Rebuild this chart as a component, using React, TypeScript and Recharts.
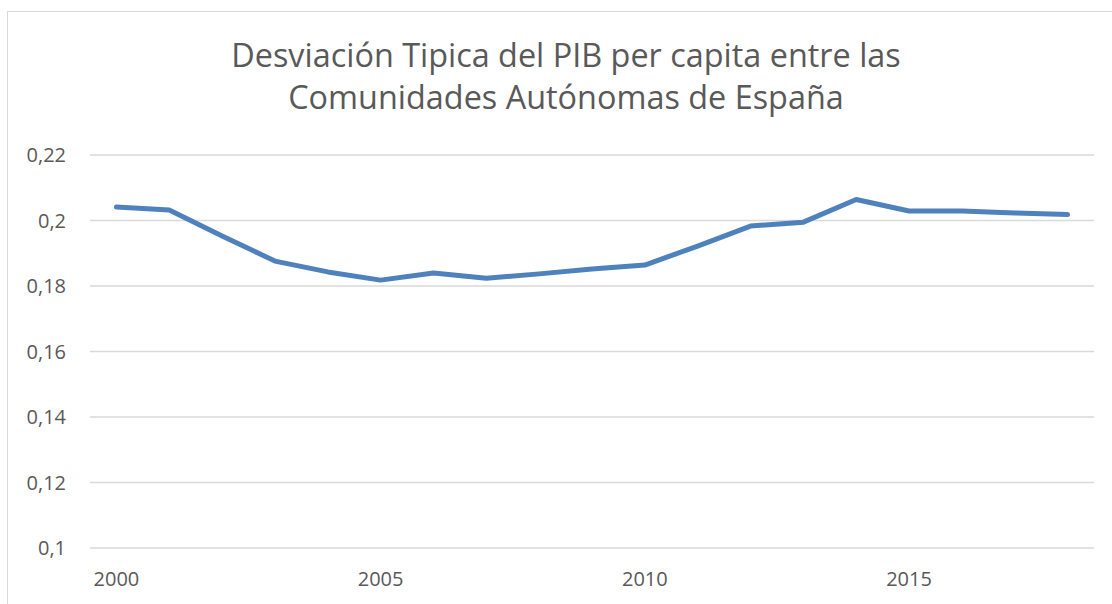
import { LineChart, Line, XAxis, YAxis, CartesianGrid } from 'recharts';

const years = [2000, 2001, 2002, 2003, 2004, 2005, 2006, 2007, 2008, 2009, 2010, 2011, 2012, 2013, 2014, 2015, 2016, 2017, 2018];
const desviacion = [0.2041, 0.2032, 0.1953, 0.1876, 0.1843, 0.1818, 0.184, 0.1824, 0.1837, 0.1852, 0.1864, 0.1922, 0.1983, 0.1995, 0.2064, 0.2029, 0.2029, 0.2023, 0.2018];
const yTicks = [0.1, 0.12, 0.14, 0.16, 0.18, 0.2, 0.22];
const xTicks = [2000, 2005, 2010, 2015];
const titleLines = ['Desviación Tipica del PIB per capita entre las', 'Comunidades Autónomas de España'];

const data = years.map((year, i) => ({ year, value: desviacion[i] }));

const font = '"Open Sans", sans-serif';
const textColor = '#595959';

const fmtY = (v: number) => String(Number(v.toFixed(2))).replace('.', ',');

export default function App() {
  return (
    <div style={{ position: 'fixed', left: 0, top: 0, width: 1112, height: 604, overflow: 'hidden', background: '#fff', fontFamily: font }}>
      <div
        style={{
          position: 'absolute',
          left: 7,
          top: 11,
          width: 1200,
          height: 700,
          borderTop: '1px solid #d9d9d9',
          borderLeft: '1px solid #d9d9d9',
        }}
      />
      <div
        style={{
          position: 'absolute',
          left: 66,
          top: 33,
          width: 1000,
          textAlign: 'center',
          fontSize: 32.4,
          lineHeight: '42px',
          color: textColor,
        }}
      >
        {titleLines.map((t) => (
          <div key={t}>{t}</div>
        ))}
      </div>
      <div style={{ position: 'absolute', left: 0, top: 0 }}>
        <LineChart width={1112} height={604} data={data} margin={{ top: 155, right: 18, bottom: 16, left: 0 }}>
          <CartesianGrid vertical={false} stroke="#d9d9d9" strokeWidth={1.3} />
          <XAxis
            dataKey="year"
            type="number"
            domain={[1999.5, 2018.5]}
            ticks={xTicks}
            allowDataOverflow
            axisLine={false}
            tickLine={false}
            tickSize={0}
            tickMargin={24}
            height={40}
            tick={{ fill: textColor, fontSize: 20, fontFamily: font }}
          />
          <YAxis
            domain={[0.1, 0.22]}
            ticks={yTicks}
            tickFormatter={fmtY}
            axisLine={false}
            tickLine={false}
            tickSize={0}
            tickMargin={24}
            width={90}
            tick={{ fill: textColor, fontSize: 20, fontFamily: font }}
          />
          <Line
            type="linear"
            dataKey="value"
            stroke="#4f81bd"
            strokeWidth={5}
            strokeLinecap="round"
            strokeLinejoin="round"
            dot={false}
            isAnimationActive={false}
          />
        </LineChart>
      </div>
    </div>
  );
}
